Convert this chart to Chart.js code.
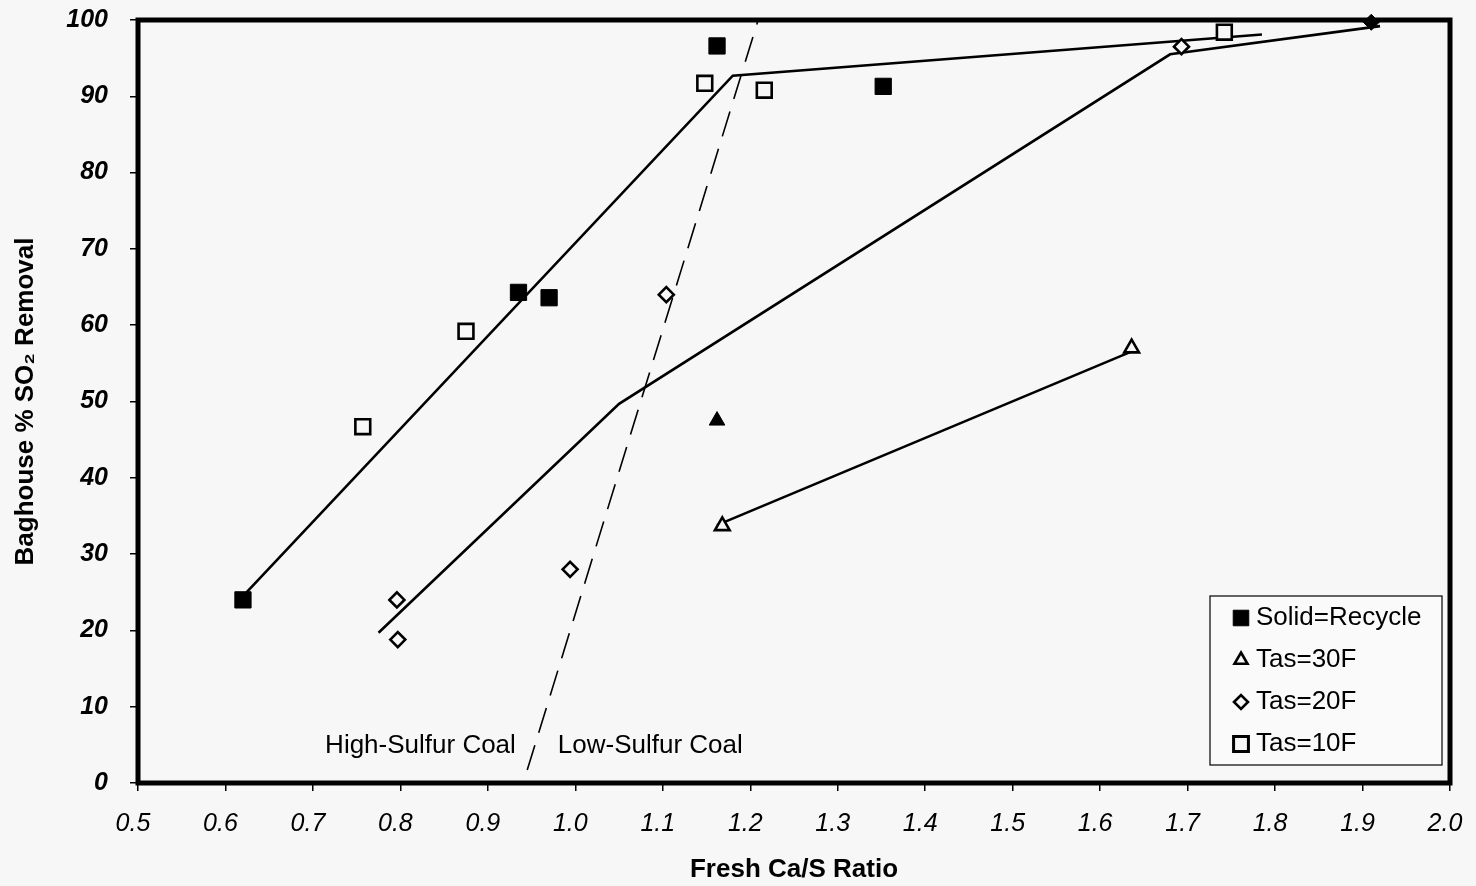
<!DOCTYPE html>
<html>
<head>
<meta charset="utf-8">
<script src="https://cdn.jsdelivr.net/npm/chart.js@4.4.1/dist/chart.umd.min.js"></script>
<style>
  body { margin: 0; background: #f7f7f7; }
  #wrap { width: 1476px; height: 886px; position: relative; }
</style>
</head>
<body>
<div id="wrap"><canvas id="so2Chart"></canvas></div>
<script>
// measured points, Ca/S ratio vs % SO2 removal
const recycleSquareX = [0.62, 0.935, 0.97, 1.162, 1.352];
const recycleSquareY = [24.0, 64.3, 63.6, 96.6, 91.3];
const recycleTriangleX = [1.162];
const recycleTriangleY = [47.5];
const recycleDiamondX = [1.91];
const recycleDiamondY = [99.7];
const tas30X = [1.168, 1.636];
const tas30Y = [33.7, 57.0];
const tas20X = [0.796, 0.797, 0.994, 1.104, 1.693];
const tas20Y = [24.0, 18.8, 28.0, 64.0, 96.5];
const tas10X = [0.757, 0.875, 1.148, 1.216, 1.742];
const tas10Y = [46.7, 59.2, 91.7, 90.8, 98.4];

// hand-fitted trend lines
const fit10X = [0.62, 1.18, 1.785];
const fit10Y = [24.5, 92.7, 98.1];
const fit20X = [0.775, 1.05, 1.68, 1.92];
const fit20Y = [19.7, 49.7, 95.5, 99.2];
const fit30X = [1.162, 1.637];
const fit30Y = [33.8, 56.6];
const coalSplitX = [0.945, 1.209];
const coalSplitY = [1.7, 100];

const legendLabels = ['Solid=Recycle', 'Tas=30F', 'Tas=20F', 'Tas=10F'];
const coalLabels = ['High-Sulfur Coal', 'Low-Sulfur Coal'];

const xTitle = 'Fresh Ca/S Ratio';
const yTitle = 'Baghouse % SO\u2082 Removal';

const BG = '#f7f7f7';

function pts(xs, ys) {
  return xs.map((x, i) => ({ x: x, y: ys[i] }));
}

function markerSet(label, xs, ys, style, radius, filled) {
  return {
    label: label,
    data: pts(xs, ys),
    showLine: false,
    pointStyle: style,
    pointRadius: radius,
    pointHoverRadius: radius,
    pointBackgroundColor: filled ? '#000' : BG,
    pointBorderColor: '#000',
    pointBorderWidth: filled ? 1 : 2.6,
    clip: false
  };
}

function lineSet(label, xs, ys, dash) {
  return {
    label: label,
    data: pts(xs, ys),
    showLine: true,
    borderColor: '#000',
    borderWidth: dash ? 1.6 : 2.6,
    borderDash: dash || [],
    pointRadius: 0,
    tension: 0,
    clip: false
  };
}

// thick frame, legend box and the coal-type notes
const extras = {
  id: 'extras',
  afterDatasetsDraw(chart) {
    const { ctx, chartArea: a, scales } = chart;
    ctx.save();

    ctx.font = "26px 'Liberation Sans', Arial, sans-serif";
    ctx.fillStyle = '#000';
    ctx.textBaseline = 'middle';
    const ly = scales.y.getPixelForValue(4.9);
    ctx.textAlign = 'right';
    ctx.fillText(coalLabels[0], scales.x.getPixelForValue(0.932), ly);
    ctx.textAlign = 'left';
    ctx.fillText(coalLabels[1], scales.x.getPixelForValue(0.98), ly);

    // legend
    const bx = a.right - 240, by = a.bottom - 187, bw = 232, bh = 169;
    ctx.fillStyle = '#fafafa';
    ctx.fillRect(bx, by, bw, bh);
    ctx.strokeStyle = '#000';
    ctx.lineWidth = 1.2;
    ctx.strokeRect(bx, by, bw, bh);

    const styles = [
      { pointStyle: 'rect', radius: 11, fill: '#000', bw: 1 },
      { pointStyle: 'triangle', radius: 7.5, fill: BG, bw: 2.6 },
      { pointStyle: 'rectRot', radius: 7, fill: BG, bw: 2.6 },
      { pointStyle: 'rect', radius: 10.5, fill: BG, bw: 3 }
    ];
    legendLabels.forEach((txt, i) => {
      const cy = by + 22 + i * 42;
      const s = styles[i];
      ctx.fillStyle = s.fill;
      ctx.strokeStyle = '#000';
      ctx.lineWidth = s.bw;
      Chart.helpers.drawPoint(ctx, { pointStyle: s.pointStyle, radius: s.radius, rotation: 0, borderWidth: s.bw }, bx + 31, cy);
      ctx.fillStyle = '#000';
      ctx.textAlign = 'left';
      ctx.font = "26px 'Liberation Sans', Arial, sans-serif";
      ctx.fillText(txt, bx + 46, cy);
    });

    // plot frame
    ctx.strokeStyle = '#000';
    ctx.lineWidth = 5;
    ctx.strokeRect(a.left, a.top, a.right - a.left, a.bottom - a.top);
    ctx.restore();
  }
};

const ctx = document.getElementById('so2Chart').getContext('2d');

new Chart(ctx, {
  type: 'scatter',
  data: {
    datasets: [
      markerSet('Solid=Recycle', recycleSquareX, recycleSquareY, 'rect', 11.5, true),
      markerSet('Recycle 30F', recycleTriangleX, recycleTriangleY, 'triangle', 9, true),
      markerSet('Recycle 20F', recycleDiamondX, recycleDiamondY, 'rectRot', 8, true),
      markerSet('Tas=30F', tas30X, tas30Y, 'triangle', 8.5, false),
      markerSet('Tas=20F', tas20X, tas20Y, 'rectRot', 7.5, false),
      markerSet('Tas=10F', tas10X, tas10Y, 'rect', 10.5, false),
      lineSet('fit 10F', fit10X, fit10Y),
      lineSet('fit 20F', fit20X, fit20Y),
      lineSet('fit 30F', fit30X, fit30Y),
      lineSet('coal split', coalSplitX, coalSplitY, [26, 13])
    ]
  },
  options: {
    responsive: true,
    maintainAspectRatio: false,
    animation: false,
    layout: { padding: { top: 20, right: 26, left: 0, bottom: 0 } },
    plugins: {
      legend: { display: false },
      tooltip: { enabled: false }
    },
    scales: {
      x: {
        type: 'linear',
        min: 0.5,
        max: 2.0,
        afterFit(scale) {
          scale.height = 103;
          scale.paddingLeft = 0;
          scale.paddingRight = 0;
        },
        border: { display: false },
        grid: { drawOnChartArea: false, drawTicks: true, tickLength: 8, color: '#000', lineWidth: 1.5 },
        ticks: {
          stepSize: 0.1,
          padding: 18,
          labelOffset: -5,
          maxRotation: 0,
          color: '#000',
          font: { family: "'Liberation Sans Narrow', 'Liberation Sans', Arial, sans-serif", size: 25, style: 'italic' },
          callback: v => v.toFixed(1)
        },
        title: {
          display: true,
          text: xTitle,
          color: '#000',
          padding: { top: 0, bottom: 1 },
          font: { family: "'Liberation Sans Narrow', 'Liberation Sans', Arial, sans-serif", size: 26, weight: 'bold' }
        }
      },
      y: {
        min: 0,
        max: 100,
        afterFit(scale) {
          scale.width = 138;
          scale.paddingTop = 0;
          scale.paddingBottom = 0;
        },
        border: { display: false },
        grid: { drawOnChartArea: false, drawTicks: true, tickLength: 8, color: '#000', lineWidth: 1.5 },
        ticks: {
          stepSize: 10,
          padding: 22,
          color: '#000',
          font: { family: "'Liberation Sans', Arial, sans-serif", size: 25, style: 'italic', weight: 'bold' }
        },
        title: {
          display: true,
          text: yTitle,
          color: '#000',
          padding: { top: 10, bottom: 0 },
          font: { family: "'Liberation Sans Narrow', 'Liberation Sans', Arial, sans-serif", size: 26, weight: 'bold' }
        }
      }
    }
  },
  plugins: [extras]
});
</script>
</body>
</html>
